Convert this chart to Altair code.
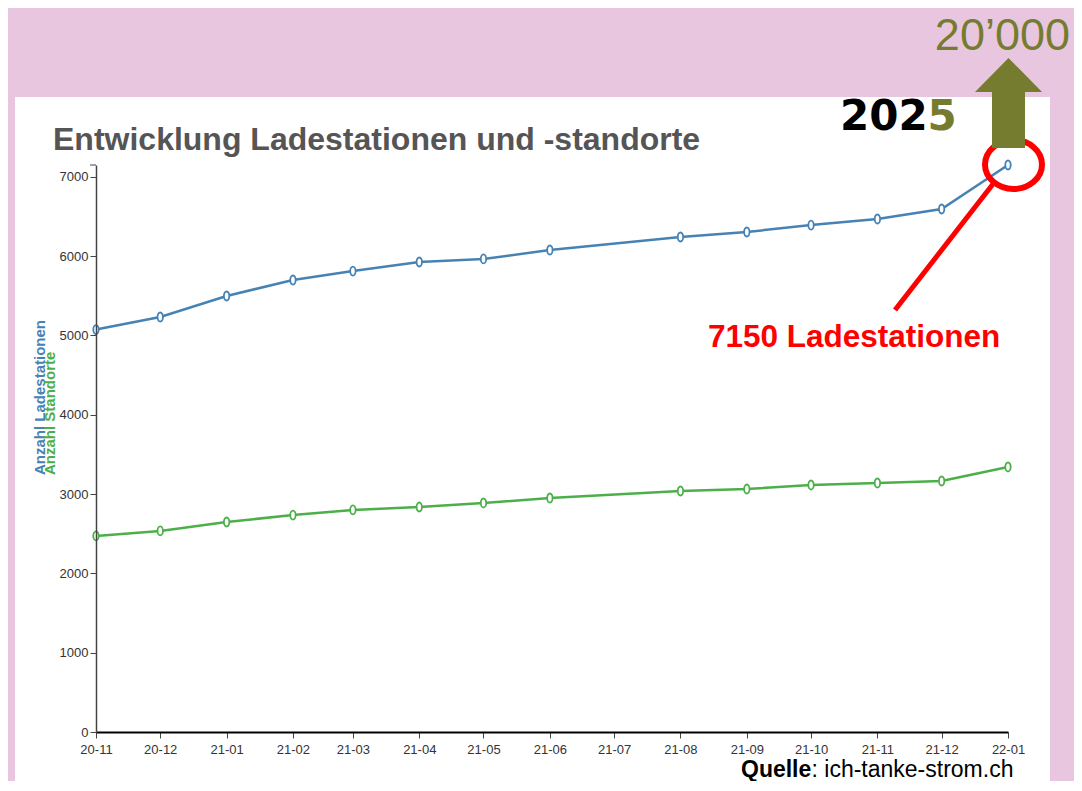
import altair as alt
import pandas as pd

# ---- data ----
months = ["2020-11-01", "2020-12-01", "2021-01-01", "2021-02-01", "2021-03-01",
          "2021-04-01", "2021-05-01", "2021-06-01", "2021-08-01", "2021-09-01",
          "2021-10-01", "2021-11-01", "2021-12-01", "2022-01-01"]
ladestationen = [5075, 5233, 5498, 5700, 5813, 5927, 5965, 6078, 6242, 6305,
                 6393, 6469, 6595, 7150]
standorte = [2472, 2535, 2648, 2736, 2800, 2837, 2888, 2951, 3039, 3064,
             3115, 3140, 3165, 3342]
series_names = ["Anzahl Ladestationen", "Anzahl Standorte"]
series_colors = ["#4682B4", "#4DAF4A"]
y_ticks = [0, 1000, 2000, 3000, 4000, 5000, 6000, 7000]

title_text = "Entwicklung Ladestationen und -standorte"
note_text = "7150 Ladestationen"
source_bold = "Quelle"
source_rest = ": ich-tanke-strom.ch"
target_value = "20\u2019000"
year_a = "202"
year_b = "5"

PINK = "#E8C6DF"
OLIVE = "#767C2F"
RED = "#FF0000"
SANS = "Liberation Sans, Arial, sans-serif"
NARROW = "Liberation Sans Narrow, Arial Narrow, Liberation Sans, Arial, sans-serif"

df = pd.DataFrame({
    "datum": months * 2,
    "wert": ladestationen + standorte,
    "reihe": [series_names[0]] * len(months) + [series_names[1]] * len(months),
})
one = pd.DataFrame({"k": [0]})

x_enc = alt.X(
    "datum:T",
    scale=alt.Scale(
        type="utc",
        domain=[alt.DateTime(year=2020, month=11, date=1, utc=True),
                alt.DateTime(year=2022, month=1, date=1, utc=True)],
        nice=False,
    ),
    axis=alt.Axis(title=None, format="%y-%m",
                  tickCount={"interval": "month", "step": 1},
                  domainColor="#000000", domainWidth=2, labelFlush=False,
                  labelPadding=5, labelBaseline="top", zindex=1),
)
y_enc = alt.Y(
    "wert:Q",
    scale=alt.Scale(domain=[0, 7150], nice=False, zero=True),
    axis=alt.Axis(title=None, values=y_ticks, format="d", labelPadding=2,
                  labelFlush=False, zindex=1),
)
color_scale = alt.Scale(domain=series_names, range=series_colors)

ELLIPSE_PT = "M-0.6,0A0.6,1,0,1,0,0.6,0A0.6,1,0,1,0,-0.6,0Z"
ELLIPSE_RING = "M-1,0A1,0.86,0,1,0,1,0A1,0.86,0,1,0,-1,0Z"
TRIANGLE = "M-1,0.507L0,-0.507L1,0.507Z"

# pink frame around the white panel
band_top = alt.Chart(one).mark_rect(color=PINK).encode(
    x=alt.value(-88), x2=alt.value(990), y=alt.value(-160), y2=alt.value(-68)
)
band_left = alt.Chart(one).mark_rect(color=PINK).encode(
    x=alt.value(-88), x2=alt.value(-81), y=alt.value(-68), y2=alt.value(640)
)
band_right = alt.Chart(one).mark_rect(color=PINK).encode(
    x=alt.value(954), x2=alt.value(990), y=alt.value(-68), y2=alt.value(640)
)

lines = alt.Chart(df).mark_line(strokeWidth=2.5).encode(
    x=x_enc, y=y_enc,
    color=alt.Color("reihe:N", scale=color_scale, legend=None),
)
points = alt.Chart(df).mark_point(
    shape=ELLIPSE_PT, size=81, filled=True, fill="white", strokeWidth=1.8, opacity=1
).encode(
    x=x_enc, y=y_enc,
    stroke=alt.Stroke("reihe:N", scale=color_scale, legend=None),
)

top_tick = alt.Chart(one).mark_rule(color="#444444", strokeWidth=1).encode(
    x=alt.value(-6), x2=alt.value(0), y=alt.value(0)
)

title = alt.Chart(one).mark_text(
    text=title_text, font=SANS, fontSize=32, fontWeight="bold", color="#555555",
    align="left", baseline="alphabetic"
).encode(x=alt.value(-43), y=alt.value(-15))

ytitle_a = alt.Chart(one).mark_text(
    text=series_names[0], font=SANS, fontSize=15, fontWeight="bold",
    color=series_colors[0], angle=270, align="left", baseline="middle"
).encode(x=alt.value(-56), y=alt.value(310))
ytitle_b = alt.Chart(one).mark_text(
    text=series_names[1], font=SANS, fontSize=15, fontWeight="bold",
    color=series_colors[1], angle=270, align="left", baseline="middle"
).encode(x=alt.value(-46), y=alt.value(310))

ring = alt.Chart(one).mark_point(
    shape=ELLIPSE_RING, size=3249, filled=False, stroke=RED, strokeWidth=6, opacity=1
).encode(x=alt.value(917.5), y=alt.value(-0.5))

pointer = alt.Chart(one).mark_rule(color=RED, strokeWidth=5).encode(
    x=alt.value(799), y=alt.value(145), x2=alt.value(897), y2=alt.value(19)
)

note = alt.Chart(one).mark_text(
    text=note_text, font=SANS, fontSize=31.5, fontWeight="bold", color=RED,
    align="left", baseline="alphabetic"
).encode(x=alt.value(612), y=alt.value(182))

src_a = alt.Chart(one).mark_text(
    text=source_bold, font=SANS, fontSize=23, fontWeight="bold", color="#000000",
    align="left", baseline="alphabetic"
).encode(x=alt.value(645), y=alt.value(612))
src_b = alt.Chart(one).mark_text(
    text=source_rest, font=SANS, fontSize=23, color="#000000",
    align="left", baseline="alphabetic"
).encode(x=alt.value(715.5), y=alt.value(612))

yr_a = alt.Chart(one).mark_text(
    text=year_a, font="DejaVu Sans, sans-serif", fontSize=42, fontWeight="bold",
    color="#000000", align="left", baseline="alphabetic"
).encode(x=alt.value(744), y=alt.value(-35))
yr_b = alt.Chart(one).mark_text(
    text=year_b, font="DejaVu Sans, sans-serif", fontSize=42, fontWeight="bold",
    color=OLIVE, align="left", baseline="alphabetic"
).encode(x=alt.value(831.5), y=alt.value(-35))

target = alt.Chart(one).mark_text(
    text=target_value, font=SANS, fontSize=45, color=OLIVE,
    align="right", baseline="alphabetic"
).encode(x=alt.value(974), y=alt.value(-115))

shaft = alt.Chart(one).mark_rect(color=OLIVE).encode(
    x=alt.value(896), x2=alt.value(929), y=alt.value(-74), y2=alt.value(-17)
)
head = alt.Chart(one).mark_point(
    shape=TRIANGLE, size=4489, filled=True, fill=OLIVE, strokeWidth=0, opacity=1
).encode(x=alt.value(912.5), y=alt.value(-90))

chart = alt.layer(
    band_top, band_left, band_right, lines, points, top_tick, title, ytitle_a, ytitle_b,
    ring, pointer, note, src_a, src_b, yr_a, yr_b, target, shaft, head
).properties(
    width=912, height=567,
    padding={"left": 88, "top": 157, "right": 66, "bottom": 49},
    autosize=alt.AutoSizeParams(type="none"),
    background="white",
).configure_view(
    stroke=None
).configure_axis(
    grid=False, zindex=1,
    labelFont=NARROW, labelFontSize=13, labelColor="#333333",
    tickColor="#444444", tickSize=6, tickWidth=1,
    domainColor="#444444", domainWidth=1.5,
)

chart.save("out.html", embed_options={"renderer": "svg", "actions": False})
